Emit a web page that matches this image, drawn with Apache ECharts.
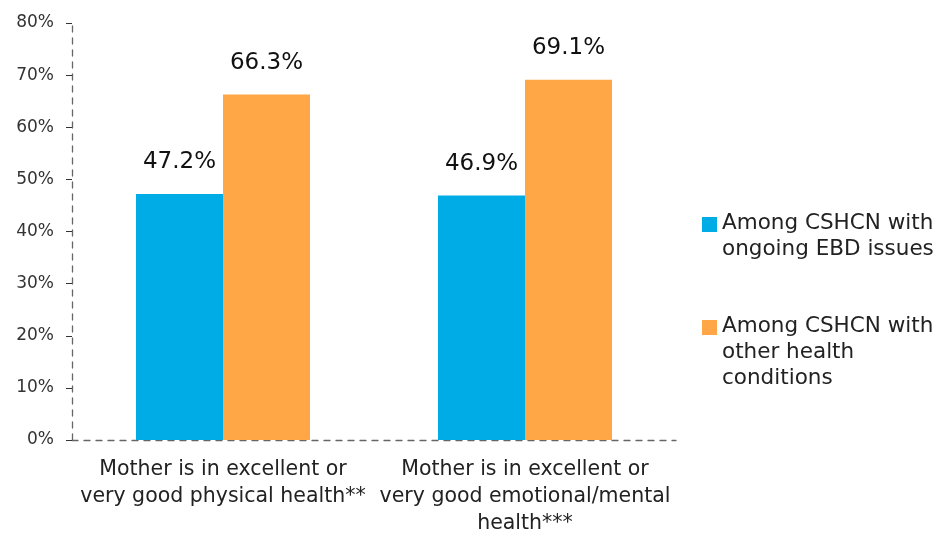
<!DOCTYPE html>
<html>
<head>
    <meta charset="utf-8"/>
    <title>Mother's health</title>
    <style>html,body{margin:0;padding:0;background:#fff;}</style>
</head>
<body>
<div id="container" style="width:946px;height:541px"></div>
<script src="https://cdn.jsdelivr.net/npm/echarts@6/dist/echarts.min.js"></script>
<script type="text/javascript">
    // data
    var categories = ['Mother is in excellent or\nvery good physical health**',
        'Mother is in excellent or\nvery good emotional/mental\nhealth***'];
    var seriesNames = ['Among CSHCN with\nongoing EBD issues',
        'Among CSHCN with\nother health\nconditions'];
    var ebdValues = [47.2, 46.9];
    var otherValues = [66.3, 69.1];
    var colors = ['#00ACE6', '#FFA646'];

    var font = '"DejaVu Sans", "Liberation Sans", sans-serif';
    var dom = document.getElementById('container');
    var myChart = echarts.init(dom);

    // legend drawn by hand so the square sits on the first line
    var legendTops = [210, 313];
    var legendGraphics = [];
    for (var i = 0; i < seriesNames.length; i++) {
        legendGraphics.push({
            type: 'rect', left: 702, top: legendTops[i] + 7,
            shape: {width: 15, height: 15}, style: {fill: colors[i]}
        });
        legendGraphics.push({
            type: 'text', left: 722, top: legendTops[i],
            style: {text: seriesNames[i], font: '21.5px ' + font, fill: '#222', lineHeight: 26}
        });
    }

    var option = {
        animation: false,
        grid: {left: 72, right: 270, top: 23, bottom: 101},
        xAxis: {
            type: 'category',
            data: categories,
            axisLine: {lineStyle: {color: '#666', type: [6, 6], width: 1.3}},
            axisTick: {length: 6, lineStyle: {color: '#333'}},
            axisLabel: {color: '#222', fontSize: 20.5, fontFamily: font, lineHeight: 27, margin: 16, interval: 0}
        },
        yAxis: {
            type: 'value',
            min: 0, max: 80, interval: 10,
            splitLine: {show: false},
            axisLine: {show: true, lineStyle: {color: '#666', type: [6, 6], width: 1.3}},
            axisTick: {show: true, length: 6, lineStyle: {color: '#333'}},
            axisLabel: {formatter: '{value}%', color: '#333', fontSize: 17, fontFamily: font, margin: 18}
        },
        graphic: legendGraphics,
        series: [{
            name: seriesNames[0],
            type: 'bar',
            data: ebdValues,
            barWidth: 87,
            barGap: '0%',
            itemStyle: {color: colors[0]},
            label: {show: true, position: 'top', distance: 20, formatter: '{c}%',
                color: '#111', fontSize: 23, fontFamily: font}
        }, {
            name: seriesNames[1],
            type: 'bar',
            data: otherValues,
            barWidth: 87,
            barGap: '0%',
            itemStyle: {color: colors[1]},
            label: {show: true, position: 'top', distance: 20, formatter: '{c}%',
                color: '#111', fontSize: 23, fontFamily: font}
        }]
    };
    myChart.setOption(option);
</script>
</body>
</html>
